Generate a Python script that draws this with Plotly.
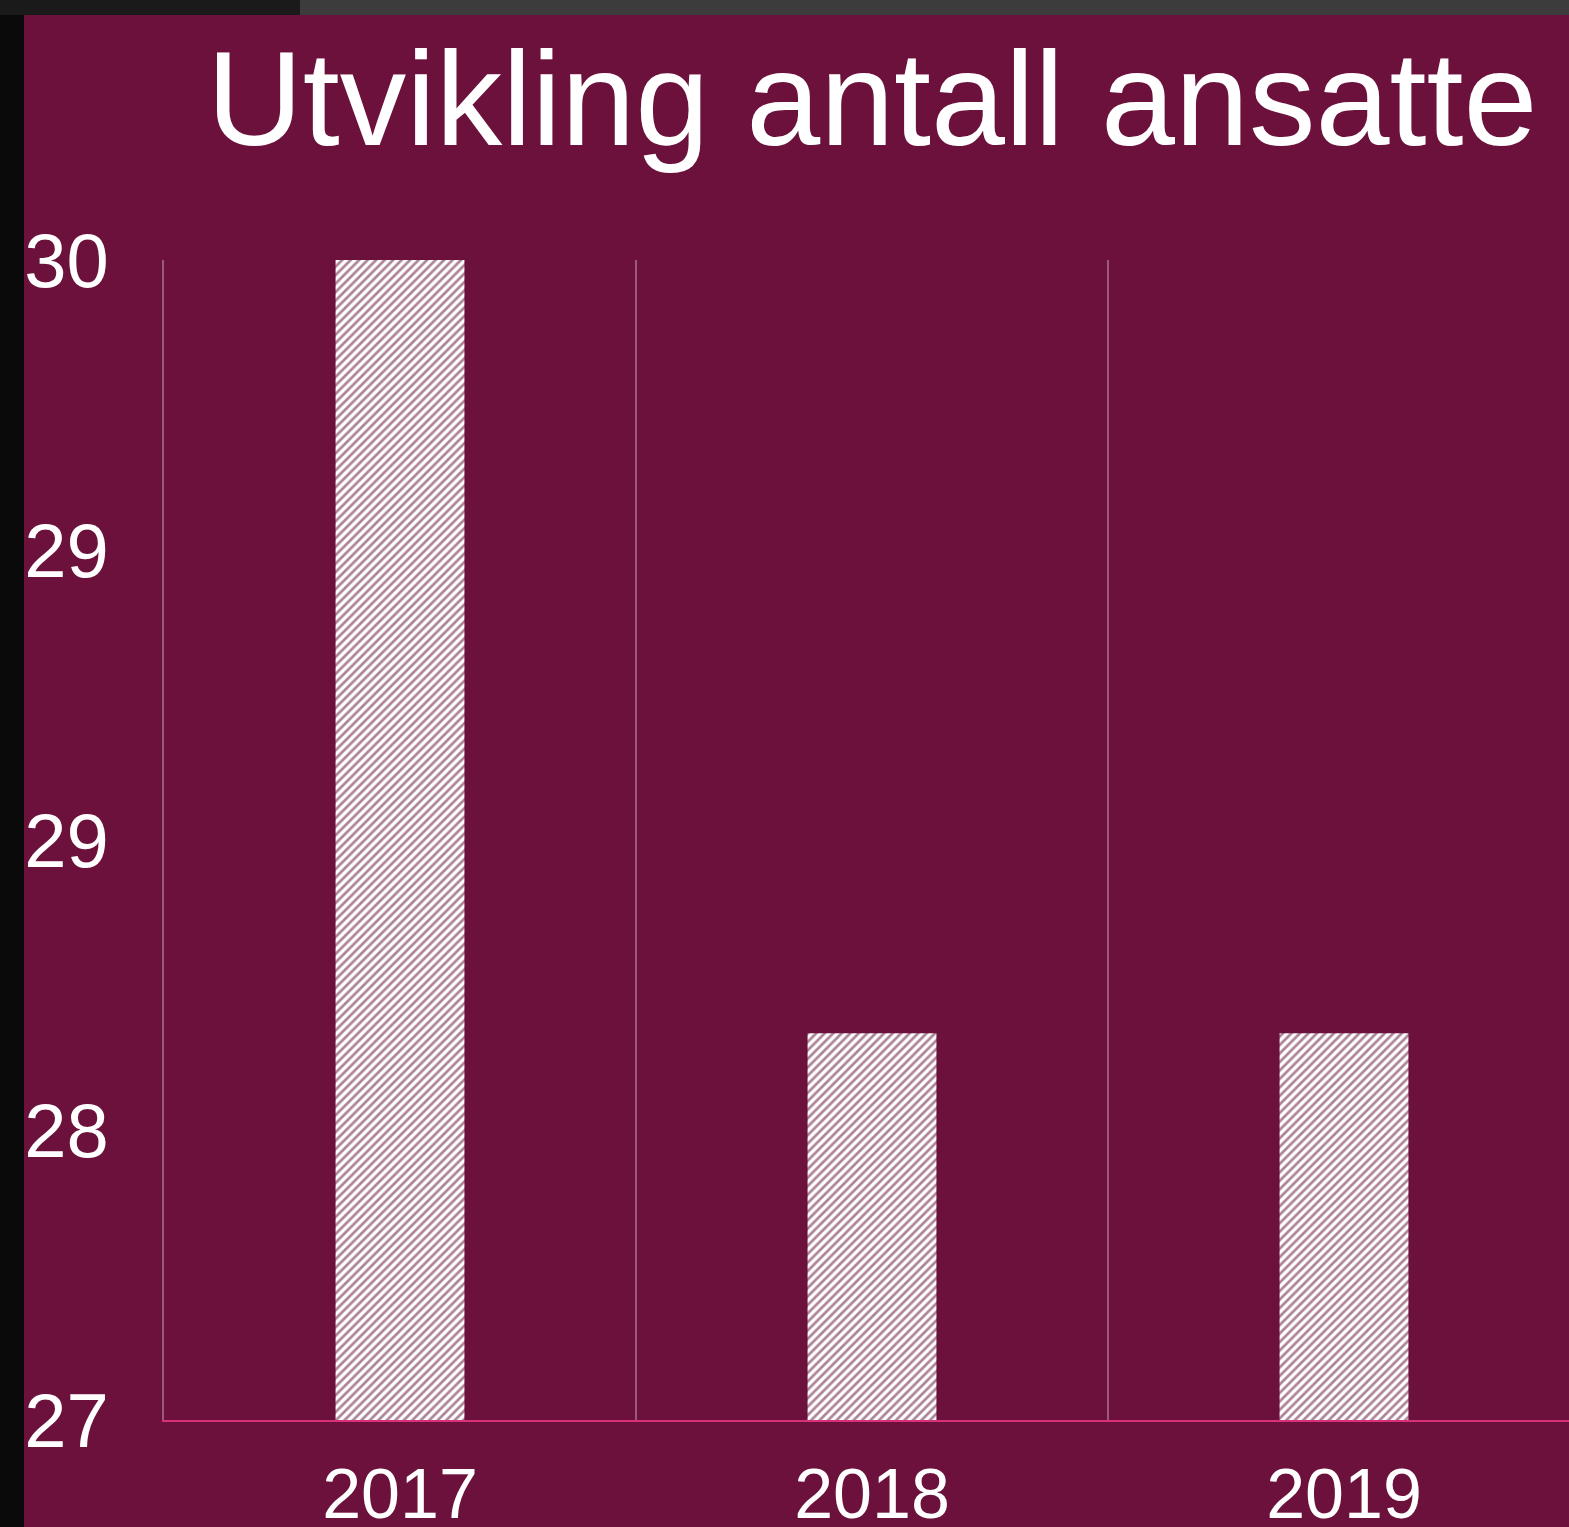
import plotly.graph_objects as go

years = ["2017", "2018", "2019"]
employees = [30, 28, 28]
ytick_vals = [27, 27.75, 28.5, 29.25, 30]
ytick_text = ["27", "28", "29", "29", "30"]

W, H = 1569, 1527
L, R, T, B = 164, 0, 260, 107
pw, ph = W - L - R, H - T - B

def px_x(px):
    return (px - L) / pw

def px_y(py):
    return (H - B - py) / ph

BURG = "#6B113B"
GRID = "#9A5A7E"
FONT = "Liberation Sans, Arial, Helvetica, sans-serif"

fig = go.Figure(go.Bar(
    x=years, y=employees, width=0.273,
    marker=dict(color="white", line=dict(width=0),
                pattern=dict(shape="/", fgcolor="#5A0830", bgcolor="white", size=6, solidity=0.45)),
))

fig.update_layout(
    width=W, height=H,
    margin=dict(l=L, r=R, t=T, b=B, autoexpand=False),
    paper_bgcolor="#0a0a0a",
    plot_bgcolor=BURG,
    showlegend=False,
    title=dict(text="Utvikling antall ansatte", font=dict(family=FONT, size=133, color="white"),
               x=872 / W, xanchor="center", xref="container",
               y=1 - 98 / H, yanchor="middle", yref="container", automargin=False),
    shapes=[
        dict(type="rect", xref="paper", yref="paper", x0=px_x(0), x1=px_x(W), y0=px_y(15), y1=px_y(0),
             fillcolor="#3c3c3c", line=dict(width=0), layer="below"),
        dict(type="rect", xref="paper", yref="paper", x0=px_x(0), x1=px_x(300), y0=px_y(15), y1=px_y(0),
             fillcolor="#1a1a1a", line=dict(width=0), layer="below"),
        dict(type="rect", xref="paper", yref="paper", x0=px_x(24), x1=px_x(W + 5), y0=px_y(H + 5), y1=px_y(15),
             fillcolor=BURG, line=dict(width=0), layer="below"),
    ],
)

fig.update_xaxes(
    type="category", range=[-0.5, 2.5 - 11 / 472], automargin=False,
    tickson="boundaries", showgrid=True, gridcolor=GRID, gridwidth=2,
    ticks="", showline=True, linecolor="#D8307A", linewidth=2,
    tickfont=dict(family=FONT, size=70, color="white"),
    ticklabelstandoff=12,
)
fig.update_yaxes(
    range=[27, 30], tickvals=ytick_vals, ticktext=ytick_text, automargin=False,
    showgrid=False, zeroline=False, showline=True, linecolor=GRID, linewidth=2,
    ticks="", tickfont=dict(family=FONT, size=76, color="white"),
    ticklabelstandoff=38,
)

fig.write_html("out.html", config={"displayModeBar": False},
               post_script="document.body.style.margin='0';document.body.style.background='#0a0a0a';")
